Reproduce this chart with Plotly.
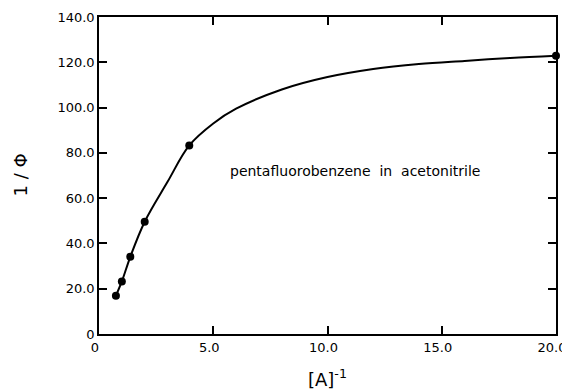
import plotly.graph_objects as go

# measured data points (1/[A], 1/Phi)
x_points = [0.74, 1.0, 1.37, 2.0, 3.95, 20.0]
y_points = [16.9, 23.2, 34.1, 49.6, 83.3, 122.9]

# smooth fitted curve
curve_x = [0.74, 1.0, 1.37, 2.0, 3.0, 3.95, 5.0, 6.0, 8.0, 10.0, 12.0, 14.0, 16.0, 18.0, 20.0]
curve_y = [16.9, 23.2, 34.1, 49.6, 67.2, 83.3, 93.0, 99.5, 108.0, 113.5, 117.0, 119.2, 120.6, 121.9, 122.9]

x_tickvals = [0, 5, 10, 15, 20]
x_ticktext = ["0", "5.0", "10.0", "15.0", "20.0"]
y_tickvals = [0, 20, 40, 60, 80, 100, 120, 140]
y_ticktext = ["0", "20.0", "40.0", "60.0", "80.0", "100.0", "120.0", "140.0"]

label_text = "pentafluorobenzene  in  acetonitrile"
x_title = "[A]<sup>-1</sup>"
y_title = "1 / Φ"

FONT = "DejaVu Sans"
OFF = 8  # page body margin offset
W, H = 570, 392
L, T = 99 - OFF, 17 - OFF
R = W - (556 - OFF)
B = H - (334 - OFF)
PW, PH = W - L - R, H - T - B

fig = go.Figure()
fig.add_trace(go.Scatter(
    x=curve_x, y=curve_y, mode="lines",
    line=dict(color="black", width=2, shape="spline", smoothing=1.0),
    hoverinfo="skip", showlegend=False, cliponaxis=False,
))
fig.add_trace(go.Scatter(
    x=x_points, y=y_points, mode="markers",
    marker=dict(color="black", size=8),
    cliponaxis=False, showlegend=False,
))

fig.add_annotation(
    x=11.2, y=72.0, xref="x", yref="y",
    text=label_text, showarrow=False,
    font=dict(family=FONT, size=14, color="black"),
)
# axis titles
fig.add_annotation(
    x=(20 - 99) / PW, y=0.5, xref="paper", yref="paper",
    text=y_title, textangle=-90, showarrow=False,
    xanchor="center", yanchor="middle",
    font=dict(family=FONT, size=18, color="black"),
)
fig.add_annotation(
    x=0.5, y=(334 - 378) / PH, xref="paper", yref="paper",
    text=x_title, showarrow=False,
    xanchor="center", yanchor="middle",
    font=dict(family=FONT, size=18, color="black"),
)

fig.update_layout(
    width=W, height=H,
    margin=dict(l=L, r=R, t=T, b=B, autoexpand=False),
    paper_bgcolor="white", plot_bgcolor="white",
    font=dict(family=FONT, color="black"),
)
fig.update_xaxes(
    range=[0, 20], tickvals=x_tickvals, ticktext=x_ticktext,
    ticks="inside", ticklen=8, tickwidth=1.5, tickcolor="black",
    showline=True, linecolor="black", linewidth=1.8, mirror="ticks",
    showgrid=False, zeroline=False, automargin=False,
    ticklabeloverflow="allow", ticklabelshift=-4,
    tickfont=dict(family=FONT, size=13, color="black"),
)
fig.update_yaxes(
    range=[0, 140], tickvals=y_tickvals, ticktext=y_ticktext,
    ticks="inside", ticklen=8, tickwidth=1.5, tickcolor="black",
    showline=True, linecolor="black", linewidth=1.5, mirror="ticks",
    showgrid=False, zeroline=False, automargin=False,
    ticklabeloverflow="allow",
    tickfont=dict(family=FONT, size=13, color="black"),
)

fig.write_html("out.html")
